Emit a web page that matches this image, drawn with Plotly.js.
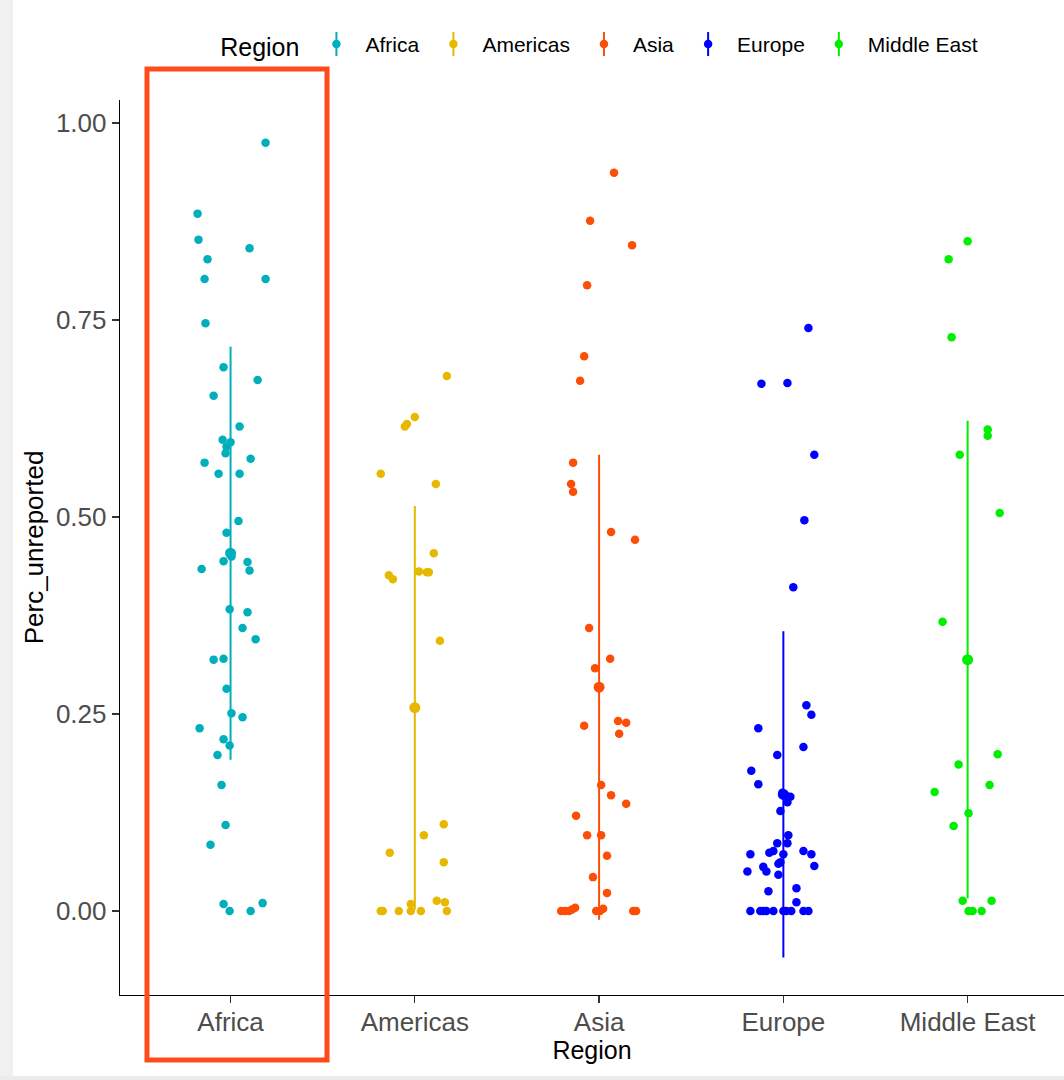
<!DOCTYPE html>
<html><head><meta charset="utf-8">
<script src="https://cdn.plot.ly/plotly-3.0.1.min.js"></script>
<style>html,body{margin:0;padding:0;background:#fff}</style>
</head><body><div id="chart" style="width:1064px;height:1080px"></div>
<script>
const regions = ["Africa", "Americas", "Asia", "Europe", "Middle East"];
const regionColors = ["#00AFBB", "#E7B800", "#FC4E07", "#0000FF", "#00EE00"];
const yTickVals = [0, 0.25, 0.5, 0.75, 1.0];
const yTickText = ["0.00", "0.25", "0.50", "0.75", "1.00"];

const africaValues = [0.975,0.885,0.852,0.841,0.827,0.802,0.802,0.746,0.690,0.674,0.654,0.615,0.598,0.595,0.589,0.581,0.574,0.569,0.555,0.555,0.495,0.480,0.450,0.444,0.443,0.434,0.432,0.383,0.379,0.359,0.345,0.319,0.320,0.282,0.251,0.246,0.232,0.218,0.210,0.198,0.160,0.109,0.084,0.009,0.000,0.000,0.010];
const africaJitter = [0.190,-0.179,-0.174,0.103,-0.125,-0.141,0.190,-0.136,-0.038,0.147,-0.092,0.049,-0.043,0.000,-0.022,-0.027,0.109,-0.141,-0.065,0.049,0.043,-0.022,0.005,-0.038,0.092,-0.157,0.103,-0.005,0.092,0.065,0.136,-0.092,-0.038,-0.022,0.005,0.065,-0.168,-0.038,-0.005,-0.071,-0.049,-0.027,-0.109,-0.038,-0.005,0.109,0.174];

const americasValues = [0.679,0.627,0.618,0.615,0.555,0.542,0.454,0.426,0.421,0.431,0.430,0.430,0.343,0.110,0.096,0.074,0.062,0.013,0.011,0.009,0.000,0.000,0.000,0.000,0.000,0.000];
const americasJitter = [0.174,0.000,-0.043,-0.054,-0.185,0.114,0.103,-0.141,-0.119,0.022,0.065,0.076,0.136,0.157,0.049,-0.136,0.157,0.119,0.163,-0.022,-0.185,-0.174,-0.087,-0.022,0.033,0.174];

const asiaValues = [0.937,0.876,0.845,0.794,0.704,0.673,0.569,0.542,0.532,0.481,0.471,0.359,0.320,0.308,0.241,0.239,0.235,0.225,0.160,0.147,0.136,0.121,0.096,0.096,0.070,0.043,0.023,0.000,0.000,0.000,0.002,0.004,0.000,0.000,0.003,0.000,0.000];
const asiaJitter = [0.081,-0.049,0.179,-0.065,-0.081,-0.103,-0.141,-0.152,-0.141,0.065,0.195,-0.054,0.060,-0.022,0.103,0.147,-0.081,0.109,0.011,0.065,0.147,-0.125,-0.065,0.011,0.043,-0.033,0.043,-0.206,-0.185,-0.163,-0.147,-0.130,-0.016,0.005,0.022,0.185,0.201];

const europeValues = [0.740,0.669,0.670,0.579,0.496,0.411,0.261,0.249,0.232,0.208,0.198,0.178,0.161,0.150,0.147,0.145,0.138,0.127,0.096,0.086,0.086,0.072,0.074,0.076,0.072,0.076,0.072,0.057,0.062,0.060,0.056,0.050,0.050,0.046,0.029,0.025,0.011,0.000,0.000,0.000,0.000,0.000,0.000,0.000,0.000,0.000,0.000];
const europeJitter = [0.136,-0.119,0.022,0.168,0.114,0.054,0.125,0.152,-0.136,0.109,-0.033,-0.174,-0.136,-0.005,0.011,0.038,0.022,-0.016,0.027,-0.033,0.022,-0.179,-0.076,-0.054,0.000,0.109,0.152,0.168,-0.016,-0.027,-0.109,-0.092,-0.195,-0.027,0.071,-0.081,0.071,-0.179,-0.125,-0.109,-0.092,-0.054,0.000,0.016,0.043,0.109,0.136];

const middleEastValues = [0.850,0.827,0.728,0.611,0.603,0.579,0.505,0.367,0.199,0.186,0.160,0.151,0.124,0.108,0.013,0.013,0.000,0.000,0.000];
const middleEastJitter = [0.000,-0.103,-0.087,0.109,0.109,-0.043,0.174,-0.136,0.163,-0.049,0.119,-0.179,0.005,-0.076,-0.027,0.130,0.005,0.027,0.076];

const regionMeans = [0.454, 0.258, 0.284, 0.148, 0.319];
const regionSds = [0.262, 0.256, 0.295, 0.207, 0.303];

const allValues = [africaValues, americasValues, asiaValues, europeValues, middleEastValues];
const allJitter = [africaJitter, americasJitter, asiaJitter, europeJitter, middleEastJitter];

const traces = [];
regions.forEach((r, i) => {
  traces.push({
    type: "scatter", mode: "markers", name: r, legendgroup: r, showlegend: true,
    x: allJitter[i].map(j => i + j), y: allValues[i],
    marker: {color: regionColors[i], size: 8.5}, hoverinfo: "y"
  });
});
regions.forEach((r, i) => {
  traces.push({
    type: "scatter", mode: "markers", name: r + " mean ± sd", legendgroup: r, showlegend: false,
    x: [i], y: [regionMeans[i]],
    marker: {color: regionColors[i], size: 11},
    error_y: {type: "data", array: [regionSds[i]], visible: true, color: regionColors[i], thickness: 2, width: 0}
  });
});

const PL = 120, PR = 0, PT = 100, PB = 85, W = 1064, H = 1080;
const baseShapes = [
  {type: "rect", xref: "paper", yref: "paper", x0: -0.1271, x1: -0.1133, y0: -0.095, y1: 1.112, fillcolor: "#f0f0f0", line: {width: 0}, layer: "above"},
  {type: "rect", xref: "paper", yref: "paper", x0: -0.1271, x1: 1.0, y0: -0.095, y1: -0.0905, fillcolor: "#ececec", line: {width: 0}, layer: "above"},
  {type: "rect", xref: "paper", yref: "paper", x0: 0.0286, x1: 0.2193, y0: -0.0726, y1: 1.0346, fillcolor: "rgba(0,0,0,0)", line: {color: "#FF4A1C", width: 5}, layer: "above"}
];

const layout = {
  width: W, height: H,
  margin: {l: PL, r: PR, t: PT, b: PB},
  paper_bgcolor: "#ffffff", plot_bgcolor: "#ffffff",
  font: {family: "Liberation Sans, Arial, sans-serif", color: "#000"},
  xaxis: {
    range: [-0.6, 4.523], tickvals: [0,1,2,3,4], ticktext: regions,
    showline: true, linecolor: "#000", linewidth: 1.3, mirror: false,
    ticks: "outside", ticklen: 7, tickcolor: "#333", tickwidth: 1.3,
    ticklabelstandoff: -4,
    showgrid: false, zeroline: false,
    tickfont: {size: 26, color: "#4d4d4d"},
    title: {text: "Region", font: {size: 25, color: "#000"}, standoff: 3}
  },
  yaxis: {
    range: [-0.1066, 1.0292], tickvals: yTickVals, ticktext: yTickText,
    showline: true, linecolor: "#000", linewidth: 1.3, mirror: false,
    ticks: "outside", ticklen: 7, tickcolor: "#333", tickwidth: 1.3,
    showgrid: false, zeroline: false,
    tickfont: {size: 26, color: "#4d4d4d"},
    title: {text: "Perc_unreported", font: {size: 26, color: "#000"}, standoff: 4}
  },
  legend: {
    orientation: "h", x: 0.104, xanchor: "left", y: 1.061, yanchor: "middle",
    itemwidth: 48,
    title: {text: "Region", font: {size: 25, color: "#000"}, side: "left"},
    font: {size: 21, color: "#000"}, bgcolor: "rgba(0,0,0,0)"
  },
  shapes: baseShapes.slice(),
  showlegend: true
};

Plotly.newPlot("chart", traces, layout, {displayModeBar: false, staticPlot: true}).then(gd => {
  // add the vertical error-bar stroke through each legend key, as in the original
  const host = gd.getBoundingClientRect();
  const extra = [];
  gd.querySelectorAll(".legend .traces").forEach((g, k) => {
    const pt = g.querySelector("path.scatterpts");
    if (!pt) return;
    const b = pt.getBoundingClientRect();
    const cx = b.left + b.width / 2 - host.left;
    const cy = b.top + b.height / 2 - host.top;
    const xp = (cx - PL) / (W - PL - PR);
    const y0 = (H - PB - (cy + 12)) / (H - PT - PB);
    const y1 = (H - PB - (cy - 12)) / (H - PT - PB);
    extra.push({type: "line", xref: "paper", yref: "paper", x0: xp, x1: xp, y0: y0, y1: y1,
      line: {color: regionColors[k % regionColors.length], width: 2}, layer: "above"});
  });
  return Plotly.relayout(gd, {shapes: baseShapes.concat(extra)});
});
</script></body></html>
